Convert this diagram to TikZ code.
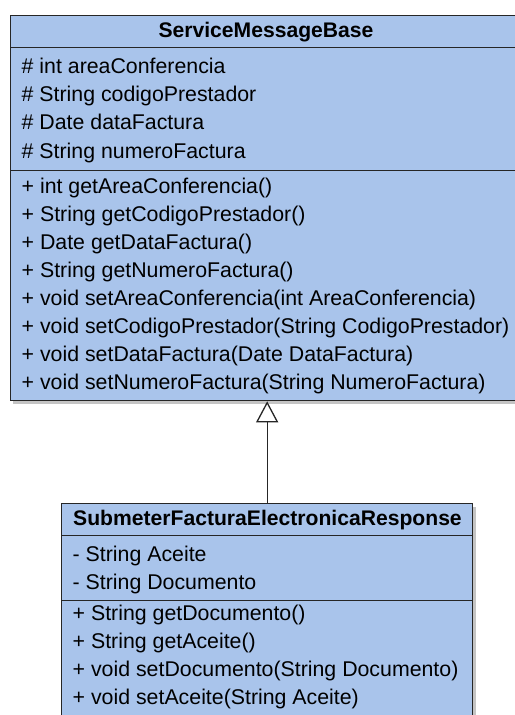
\documentclass[tikz,border=0pt]{standalone}
\usepackage{fontspec}
\setmainfont{Liberation Sans}
\usetikzlibrary{arrows.meta}
\definecolor{umlfill}{HTML}{A9C4EB}
\definecolor{umlline}{HTML}{262626}
\definecolor{shadowc}{HTML}{C4C4C4}
\begin{document}
\begin{tikzpicture}[x=1bp,y=-1bp,
  comp/.style={draw=umlline, fill=umlfill, line width=1.3bp, rectangle, inner sep=0pt, anchor=north west},
  txt/.style={anchor=base west, inner sep=0pt, font=\fontsize{21.4}{24}\selectfont, text=black},
  hdr/.style={anchor=base, inner sep=0pt, font=\fontsize{21.2}{24}\selectfont\bfseries, text=black},
  shadowbox/.style={fill=shadowc},
  inherit/.style={draw=umlline, line width=1.3bp, -{Triangle[length=21bp,width=22bp,fill=white]}}]
\useasboundingbox (0,0) rectangle (515,715);
\clip (0,0) rectangle (515,715);
% shadows
\fill[shadowbox] (13,19) rectangle (526,404);
\fill[shadowbox] (64.5,507) rectangle (475.5,740);
% base class
\node[comp, minimum width=513bp, minimum height=32bp] (bhead) at (9.5,15) {};
\node[comp, minimum width=513bp, minimum height=123bp] (battr) at (9.5,47) {};
\node[comp, minimum width=513bp, minimum height=230bp] (bmeth) at (9.5,170) {};
\node[hdr] (bname) at (266,38) {ServiceMessageBase};
\node[txt] (ba1) at (21.5,74) {\# int areaConferencia};
\node[txt] (ba2) at (21.5,102) {\# String codigoPrestador};
\node[txt] (ba3) at (21.5,130) {\# Date dataFactura};
\node[txt] (ba4) at (21.5,158) {\# String numeroFactura};
\node[txt] (bm1) at (21.5,193) {+ int getAreaConferencia()};
\node[txt] (bm2) at (21.5,221) {+ String getCodigoPrestador()};
\node[txt] (bm3) at (21.5,249) {+ Date getDataFactura()};
\node[txt] (bm4) at (21.5,277) {+ String getNumeroFactura()};
\node[txt] (bm5) at (21.5,305) {+ void setAreaConferencia(int AreaConferencia)};
\node[txt] (bm6) at (21.5,333) {+ void setCodigoPrestador(String CodigoPrestador)};
\node[txt] (bm7) at (21.5,361) {+ void setDataFactura(Date DataFactura)};
\node[txt] (bm8) at (21.5,389) {+ void setNumeroFactura(String NumeroFactura)};
% subclass
\node[comp, minimum width=411bp, minimum height=32bp] (shead) at (61,503) {};
\node[comp, minimum width=411bp, minimum height=65bp] (sattr) at (61,535) {};
\node[comp, minimum width=411bp, minimum height=140bp] (smeth) at (61,600) {};
\node[hdr] (sname) at (267.5,525) {SubmeterFacturaElectronicaResponse};
\node[txt] (sa1) at (72.5,561) {- String Aceite};
\node[txt] (sa2) at (72.5,589) {- String Documento};
\node[txt] (sm1) at (72.5,620) {+ String getDocumento()};
\node[txt] (sm2) at (72.5,648) {+ String getAceite()};
\node[txt] (sm3) at (72.5,676) {+ void setDocumento(String Documento)};
\node[txt] (sm4) at (72.5,704) {+ void setAceite(String Aceite)};
% generalization
\draw[inherit] (shead.north) -- (shead.north |- bmeth.south);
\end{tikzpicture}
\end{document}
